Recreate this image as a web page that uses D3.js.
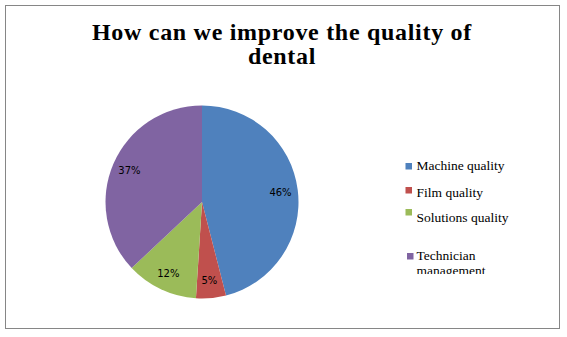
<!DOCTYPE html>
<html><head><meta charset="utf-8">
<script src="https://cdn.jsdelivr.net/npm/d3@7"></script>
<style>html,body{margin:0;padding:0;background:#fff;}</style>
</head><body>
<svg id="c" width="567" height="337"></svg>
<script>
const categories = ["Machine quality", "Film quality", "Solutions quality", "Technician management"];
const values = [46, 5, 12, 37];
const labels = ["46%", "5%", "12%", "37%"];
const colors = ["#4F81BD", "#C0504D", "#9BBB59", "#8064A2"];
const titleLines = ["How can we improve the quality of", "dental"];

const svg = d3.select("#c");
svg.append("rect").attr("x", 5.5).attr("y", 5.5).attr("width", 554).attr("height", 323)
  .attr("fill", "#fff").attr("stroke", "#868686").attr("stroke-width", 1);

const title = svg.append("text").attr("text-anchor", "middle")
  .attr("font-family", "Liberation Serif, serif").attr("font-weight", "bold")
  .attr("font-size", 24).attr("letter-spacing", 0.7).attr("fill", "#000");
titleLines.forEach((t, i) => title.append("tspan").attr("x", 282).attr("y", 40 + i * 23.5).text(t));

const cx = 202, cy = 202, r = 96.5;
const pie = d3.pie().sort(null).value(d => d)(values);
const arc = d3.arc().innerRadius(0).outerRadius(r);
const labelArc = d3.arc().innerRadius(r * 0.82).outerRadius(r * 0.82);
const g = svg.append("g").attr("transform", `translate(${cx},${cy})`);
g.selectAll("path").data(pie).join("path").attr("d", arc).attr("fill", (d, i) => colors[i]);
g.selectAll("text").data(pie).join("text")
  .attr("transform", d => `translate(${labelArc.centroid(d)})`)
  .attr("text-anchor", "middle").attr("dy", "0.35em")
  .attr("font-family", "DejaVu Sans, sans-serif").attr("font-size", 10).attr("fill", "#000")
  .text((d, i) => labels[i]);

// legend
const defs = svg.append("defs");
defs.append("clipPath").attr("id", "lc").append("rect").attr("x", 390).attr("y", 140).attr("width", 170).attr("height", 134);
const leg = svg.append("g").attr("clip-path", "url(#lc)");
const sqY = [166, 190, 212, 256];
const txtY = [170, 197, 222, 260];
categories.forEach((c, i) => {
  leg.append("rect").attr("x", i === 3 ? 407 : 405.5).attr("y", sqY[i] - 3).attr("width", 6.5).attr("height", 6.5).attr("fill", colors[i]);
  const words = i === 3 ? ["Technician", "management"] : [c];
  const t = leg.append("text").attr("font-family", "Liberation Serif, serif").attr("font-size", 13.5).attr("fill", "#000");
  words.forEach((w, k) => t.append("tspan").attr("x", 416.5).attr("y", txtY[i] + k * 14.5).text(w));
});
</script>
</body></html>
